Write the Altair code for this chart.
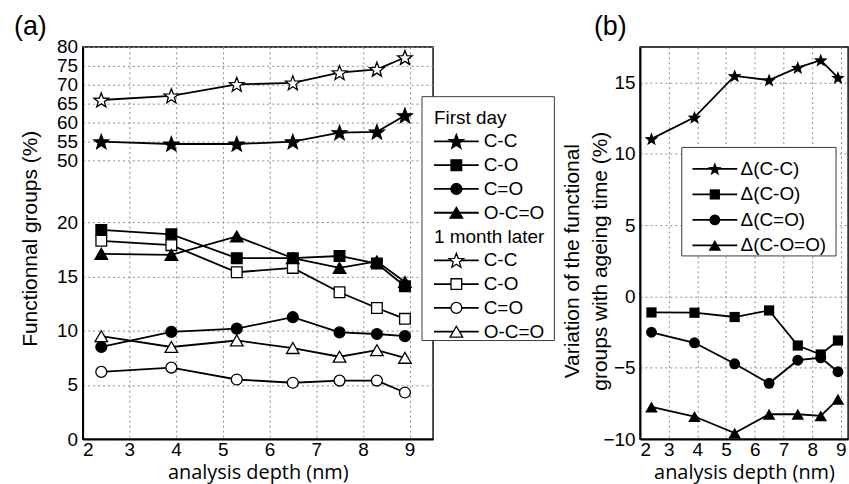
import math
import altair as alt
import pandas as pd

# ---------------- data ----------------
depth = [2.4, 3.9, 5.3, 6.5, 7.5, 8.3, 8.9]
groups = ["C-C", "C-O", "C=O", "O-C=O"]
periods = ["First day", "1 month later"]

first_cc = [55.0, 54.4, 54.4, 55.0, 57.4, 57.6, 61.9]
first_co = [19.3, 18.9, 16.7, 16.7, 16.9, 16.2, 14.1]
first_cdo = [8.5, 9.9, 10.2, 11.25, 9.85, 9.7, 9.5]
first_ocdo = [17.1, 17.0, 18.7, 16.7, 15.8, 16.4, 14.5]

later_cc = [66.0, 67.1, 70.1, 70.5, 73.2, 74.1, 77.2]
later_co = [18.3, 17.9, 15.4, 15.8, 13.55, 12.1, 11.1]
later_cdo = [6.2, 6.6, 5.5, 5.2, 5.4, 5.4, 4.3]
later_ocdo = [9.5, 8.5, 9.1, 8.4, 7.6, 8.2, 7.5]

delta_groups = ["Δ(C-C)", "Δ(C-O)", "Δ(C=O)", "Δ(C-O=O)"]
delta_cc = [11.05, 12.56, 15.47, 15.17, 16.05, 16.57, 15.35]
delta_co = [-1.12, -1.14, -1.44, -0.98, -3.44, -4.07, -3.09]
delta_cdo = [-2.51, -3.25, -4.72, -6.09, -4.47, -4.3, -5.28]
delta_ocdo = [-7.75, -8.42, -9.58, -8.26, -8.26, -8.37, -7.21]

x_ticks = [2, 3, 4, 5, 6, 7, 8, 9]
y_ticks_a = [0, 5, 10, 15, 20, 50, 55, 60, 65, 70, 75, 80]
y_ticks_b = [-10, -5, 0, 5, 10, 15]

legend_a_labels = ["First day", "C-C", "C-O", "C=O", "O-C=O",
                   "1 month later", "C-C", "C-O", "C=O", "O-C=O"]
legend_a_groups = [None, "C-C", "C-O", "C=O", "O-C=O",
                   None, "C-C", "C-O", "C=O", "O-C=O"]
legend_a_periods = ["First day"] * 5 + ["1 month later"] * 5

title_a_y = "Functionnal groups (%)"
title_b_y1 = "Variation of the functional"
title_b_y2 = "groups with ageing time (%)"
title_x = "analysis depth (nm)"

# ---------------- marker shapes (five-point star as an SVG path in the unit box) ----------------
_pts = []
for k in range(10):
    r = 1.0 if k % 2 == 0 else 0.42
    ang = math.radians(-90 + 36 * k)
    _pts.append(f"{r * math.cos(ang):.3f},{r * math.sin(ang) + 0.08:.3f}")
STAR = "M" + " L".join(_pts) + " Z"
shapes = [STAR, "square", "circle", "triangle-up"]
sizes_a = [240, 115, 120, 160]
sizes_b = [210, 105, 120, 160]

rows = []
series_a = [
    ("First day", "C-C", first_cc), ("First day", "C-O", first_co),
    ("First day", "C=O", first_cdo), ("First day", "O-C=O", first_ocdo),
    ("1 month later", "C-C", later_cc), ("1 month later", "C-O", later_co),
    ("1 month later", "C=O", later_cdo), ("1 month later", "O-C=O", later_ocdo),
]
for per, grp, vals in series_a:
    for d, v in zip(depth, vals):
        rows.append({"depth": d, "value": v, "group": grp, "period": per,
                     "series": per + " " + grp})
df_a = pd.DataFrame(rows)

rows = []
for grp, vals in zip(delta_groups, [delta_cc, delta_co, delta_cdo, delta_ocdo]):
    for d, v in zip(depth, vals):
        rows.append({"depth": d, "value": v, "group": grp})
df_b = pd.DataFrame(rows)

FONT = "Liberation Sans"
H = 394
one = pd.DataFrame({"k": [0]})


def label(text, x, y, size=19, angle=None, align="left"):
    kw = dict(align=align, baseline="middle", font=FONT, fontSize=size, color="black")
    if angle is not None:
        kw["angle"] = angle
    return alt.Chart(pd.DataFrame({"t": [text]})).mark_text(**kw).encode(
        x=alt.value(x), y=alt.value(y), text="t:N")


# ---------------- panel (a): broken (piecewise linear) y axis ----------------
fill_a = alt.Fill("period:N", scale=alt.Scale(domain=periods, range=["black", "white"]), legend=None)
x_a = alt.X("depth:Q", scale=alt.Scale(domain=[2, 9.5], nice=False, zero=False),
            axis=alt.Axis(values=x_ticks, title=title_x))
y_a = alt.Y("value:Q",
            scale=alt.Scale(domain=[0, 20, 50, 80], range=[H, 176.3, 114.3, 0], nice=False, zero=False),
            axis=alt.Axis(values=y_ticks_a, title=None))

base_a = alt.Chart(df_a)
layers_a = [base_a.mark_line(color="black", strokeWidth=1.8).encode(x=x_a, y=y_a, detail="series:N")]
for grp, shp, sz in zip(groups, shapes, sizes_a):
    layers_a.append(
        base_a.transform_filter(alt.datum.group == grp).mark_point(
            shape=shp, size=sz, filled=True, stroke="black", strokeWidth=1.3, opacity=1
        ).encode(x=x_a, y=y_a, fill=fill_a)
    )

# legend (a) – pixel layout relative to the plot area
LA_ROW0, LA_STEP = 71, 23.9
layers_a.append(alt.Chart(one).mark_rect(fill="white", stroke="#3a3a3a", strokeWidth=1).encode(
    x=alt.value(341), x2=alt.value(474), y=alt.value(50), y2=alt.value(295)))
for i, (lab, grp, per) in enumerate(zip(legend_a_labels, legend_a_groups, legend_a_periods)):
    yy = LA_ROW0 + LA_STEP * i
    if grp is None:
        layers_a.append(label(lab, 353, yy))
        continue
    gi = groups.index(grp)
    layers_a.append(alt.Chart(one).mark_rule(color="black", strokeWidth=1.8).encode(
        x=alt.value(353), x2=alt.value(398), y=alt.value(yy)))
    layers_a.append(alt.Chart(one).mark_point(
        shape=shapes[gi], size=sizes_a[gi], filled=True, stroke="black", strokeWidth=1.3, opacity=1,
        fill="black" if per == "First day" else "white").encode(
        x=alt.value(375.5), y=alt.value(yy)))
    layers_a.append(label(lab, 403, yy))

# panel letter and y title
layers_a.append(label("(a)", -69, -19.7, size=27))
layers_a.append(label(title_a_y, -52, 192.8, size=21, angle=270, align="center"))

chart_a = alt.layer(*layers_a).properties(width=352, height=H)

# ---------------- panel (b) ----------------
x_b = alt.X("depth:Q", scale=alt.Scale(domain=[2, 9.25], nice=False, zero=False),
            axis=alt.Axis(values=x_ticks, title=title_x))
y_b = alt.Y("value:Q", scale=alt.Scale(domain=[-10, 17.5], nice=False, zero=False),
            axis=alt.Axis(values=y_ticks_b, title=None))

base_b = alt.Chart(df_b)
layers_b = [base_b.mark_line(color="black", strokeWidth=1.8).encode(x=x_b, y=y_b, detail="group:N")]
for grp, shp, sz in zip(delta_groups, shapes, sizes_b):
    layers_b.append(
        base_b.transform_filter(alt.datum.group == grp).mark_point(
            shape=shp, size=sz, filled=True, color="black", opacity=1
        ).encode(x=x_b, y=y_b)
    )

LB_ROW0, LB_STEP = 122.6, 25.6
layers_b.append(alt.Chart(one).mark_rect(fill="white", stroke="#3a3a3a", strokeWidth=1).encode(
    x=alt.value(42), x2=alt.value(197), y=alt.value(101), y2=alt.value(210)))
for i, lab in enumerate(delta_groups):
    yy = LB_ROW0 + LB_STEP * i
    layers_b.append(alt.Chart(one).mark_rule(color="black", strokeWidth=1.8).encode(
        x=alt.value(52.7), x2=alt.value(97.7), y=alt.value(yy)))
    layers_b.append(alt.Chart(one).mark_point(
        shape=shapes[i], size=sizes_b[i], filled=True, color="black", opacity=1).encode(
        x=alt.value(75.2), y=alt.value(yy)))
    layers_b.append(label(lab, 101, yy))

layers_b.append(label("(b)", -46.3, -19.7, size=27))
layers_b.append(label(title_b_y1, -67, 215.3, size=21, angle=270, align="center"))
layers_b.append(label(title_b_y2, -39.3, 215.3, size=21, angle=270, align="center"))

chart_b = alt.layer(*layers_b).properties(width=209, height=H)

chart = alt.hconcat(chart_a, chart_b, spacing=5).properties(
    padding={"left": 13, "top": 11, "right": 0, "bottom": 0}
).configure_axis(
    labelFont=FONT, labelFontSize=19, labelColor="black",
    titleColor="black", titleFontWeight="normal",
    ticks=False, domain=True, domainColor="black", domainWidth=2,
    gridColor="#8a8a8a", gridDash=[2, 3], gridWidth=1,
).configure_axisX(
    labelPadding=2, titleFont="Open Sans", titleFontSize=20, titlePadding=3, labelFlush=True,
).configure_axisY(
    labelPadding=5,
).configure_view(
    stroke="black", strokeWidth=1.4,
)

chart.save("out.html", embed_options={"renderer": "svg", "actions": False})
